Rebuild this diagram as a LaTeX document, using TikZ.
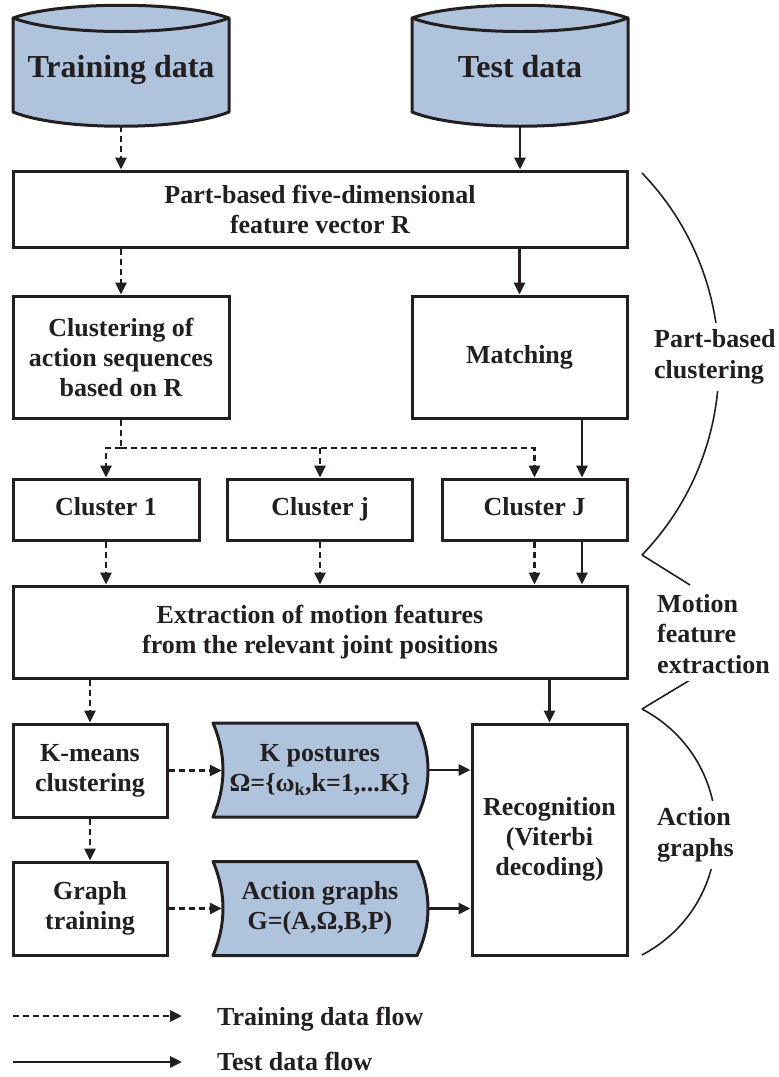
\documentclass[tikz,border=0pt]{standalone}
\usepackage{fontspec}
\setmainfont{Liberation Serif}
\usetikzlibrary{arrows.meta,calc}
\definecolor{ink}{HTML}{231F20}
\definecolor{dbfill}{HTML}{AFC3DD}
\begin{document}
\begin{tikzpicture}[x=1pt,y=-1pt,
  txt/.style={font=\fontsize{26}{30}\selectfont\bfseries, text=ink, align=center},
  box/.style={txt, draw=ink, line width=3pt, inner sep=0pt, fill=white},
  ghost/.style={txt, inner sep=0pt},
  oneline/.style={text height=18pt, text depth=6pt},
  trainline/.style={draw=ink, line width=2.8pt, dash pattern=on 6pt off 4pt},
  train/.style={trainline, -{Triangle[length=12pt,width=11pt]}},
  test/.style={draw=ink, line width=2.8pt, -{Triangle[length=12pt,width=11pt]}},
  shapeline/.style={draw=ink, line width=3pt, line join=round},
  brace/.style={draw=ink, line width=1.6pt},
  lab/.style={font=\fontsize{26}{30.5}\selectfont\bfseries, text=ink, align=left, fill=white, inner xsep=2pt, inner ysep=7pt},
]
\useasboundingbox (0,0) rectangle (779,1077);

% data cylinders
\foreach \dx in {0,399}{
  \begin{scope}[xshift=\dx pt]
  \filldraw[fill=dbfill, shapeline] (13,18) .. controls (60,1) and (182,1) .. (229,18) -- (229,112) .. controls (182,131) and (60,131) .. (13,112) -- cycle;
  \draw[shapeline] (13,18) .. controls (60,36) and (182,36) .. (229,18);
  \end{scope}
}
\node[ghost, font=\fontsize{32}{36}\selectfont\bfseries, text height=22pt, text depth=7pt, minimum width=216pt, minimum height=112pt] (trd) at (121,70) {Training data};
\node[ghost, font=\fontsize{32}{36}\selectfont\bfseries, text height=22pt, text depth=7pt, minimum width=216pt, minimum height=112pt] (tsd) at (520,70) {Test data};

% feature box
\node[box, minimum width=614pt, minimum height=76pt] (part) at (320,209) {Part-based five-dimensional\\feature vector R};
\draw[train] (trd.south) -- (trd.south |- part.north);
\draw[test] (tsd.south) -- (tsd.south |- part.north);

% clustering / matching
\node[box, minimum width=216pt, minimum height=122pt] (clu) at (121,357) {Clustering of\\action sequences\\based on R};
\node[box, oneline, minimum width=215pt, minimum height=122pt] (mat) at (519.5,357) {Matching};
\draw[train] (part.south -| clu.north) -- (clu.north);
\draw[test] (part.south -| mat.north) -- (mat.north);

% clusters
\node[box, oneline, minimum width=186pt, minimum height=61pt] (c1) at (106,509.5) {Cluster 1};
\node[box, oneline, minimum width=185pt, minimum height=61pt] (cj) at (320,509.5) {Cluster j};
\node[box, oneline, minimum width=185pt, minimum height=61pt] (cJ) at (534.5,509.5) {Cluster J};
\coordinate (bus) at (121,448);
\draw[trainline] (clu.south) -- (bus);
\draw[train] (bus) -| (c1.north);
\draw[train] (bus) -| (cJ.north);
\draw[train] (bus -| cj.north) -- (cj.north);
\coordinate (ms) at ($(mat.south)+(62.5,0)$);
\draw[test] (ms) -- (ms |- cJ.north);

% extraction
\node[box, minimum width=614pt, minimum height=92pt] (ext) at (320,632) {Extraction of motion features\\from the relevant joint positions};
\draw[train] (c1.south) -- (c1.south |- ext.north);
\draw[train] (cj.south) -- (cj.south |- ext.north);
\draw[train] (cJ.south) -- (cJ.south |- ext.north);
\draw[test] (ms |- cJ.south) -- (ms |- ext.north);

% lower part
\node[box, minimum width=154pt, minimum height=93pt] (km) at (90,770.5) {K-means\\clustering};
\node[box, minimum width=154pt, minimum height=93pt] (gt) at (90,908.5) {Graph\\training};
\node[box, minimum width=155pt, minimum height=231pt] (rec) at (549.5,839.5) {Recognition\\(Viterbi\\decoding)};
\draw[train] (ext.south -| km.north) -- (km.north);
\draw[train] (km.south) -- (gt.north);
\draw[test] (ext.south -| rec.north) -- (rec.north);

\foreach \dy in {0,138.5}{
  \begin{scope}[yshift=-\dy pt]
  \filldraw[fill=dbfill, shapeline] (213,723) -- (417,723) .. controls (431.7,754) and (431.7,786) .. (417,817) -- (213,817) .. controls (226.3,786) and (226.3,754) .. (213,723) -- cycle;
  \end{scope}
}
\node[ghost, minimum width=196pt, minimum height=94pt] (kp) at (320,770) {K postures\\Ω=\{ω\textsubscript{k},k=1,...K\}};
\node[ghost, minimum width=196pt, minimum height=94pt] (ag) at (320,908.5) {Action graphs\\G=(A,Ω,B,P)};
\draw[train] (km.east) -- (km.east -| kp.west);
\draw[train] (gt.east) -- (gt.east -| ag.west);
\draw[test] ([xshift=10pt]kp.east) -- (kp.east -| rec.west);
\draw[test] ([xshift=10pt]ag.east) -- (ag.east -| rec.west);

% braces
\draw[brace] (642,173) .. controls (744.6,279.6) and (744.6,448.4) .. (642,555);
\draw[brace] (642,555) -- (690,585);
\draw[brace] (690,680) -- (642,709);
\draw[brace] (642,709) .. controls (740.8,761.4) and (740.8,902.6) .. (642,955);
\node[lab, anchor=west] (pbl) at (652,357) {Part-based\\clustering};
\node[lab, anchor=west] (mfl) at (655,634) {Motion\\feature\\extraction};
\node[lab, anchor=west] (agl) at (655,835) {Action\\graphs};

% legend
\coordinate (l1s) at (13,1016);
\coordinate (l1e) at (182,1016);
\coordinate (l2s) at (13,1062);
\coordinate (l2e) at (182,1062);
\draw[train] (l1s) -- (l1e);
\draw[test] (l2s) -- (l2e);
\node[txt, anchor=base west, inner sep=0pt] (l1t) at (217,1025) {Training data flow};
\node[txt, anchor=base west, inner sep=0pt] (l2t) at (217,1070) {Test data flow};
\end{tikzpicture}
\end{document}
